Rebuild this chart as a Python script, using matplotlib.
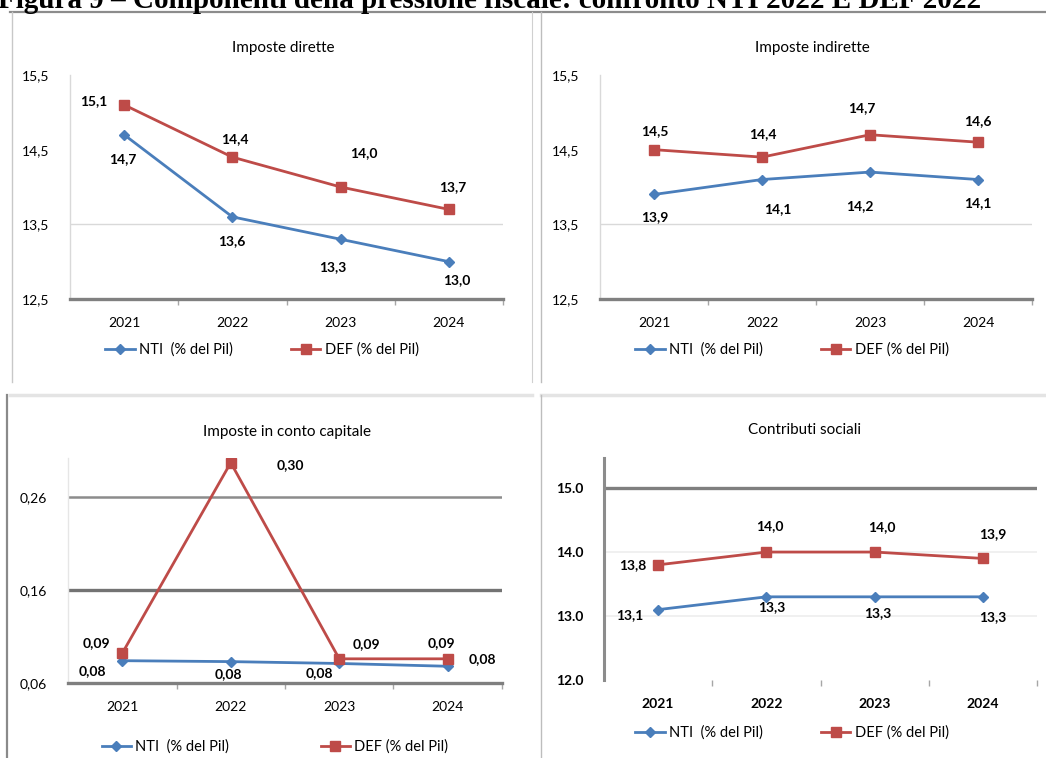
import matplotlib
matplotlib.use("Agg")
import matplotlib.pyplot as plt
from matplotlib.lines import Line2D

plt.rcParams['font.family'] = ['Lato', 'DejaVu Sans']

# ---- data (% del Pil) ----
years = ['2021', '2022', '2023', '2024']

dirette_nti = [14.7, 13.6, 13.3, 13.0]
dirette_def = [15.1, 14.4, 14.0, 13.7]

indirette_nti = [13.9, 14.1, 14.2, 14.1]
indirette_def = [14.5, 14.4, 14.7, 14.6]

capitale_nti = [0.084, 0.083, 0.081, 0.078]
capitale_def = [0.092, 0.297, 0.086, 0.086]

contributi_nti = [13.1, 13.3, 13.3, 13.3]
contributi_def = [13.8, 14.0, 14.0, 13.9]

label_nti = 'NTI  (% del Pil)'
label_def = 'DEF (% del Pil)'
fig_title = 'Figura 9 \u2013 Componenti della pressione fiscale: confronto NTI 2022 E DEF 2022'

BLUE = '#4a7ebb'
RED = '#be4b48'
W, H = 1046, 758

fig = plt.figure(figsize=(W / 100, H / 100), dpi=100)


def px_axes(x0, x1, y0, y1):
    return fig.add_axes([x0 / W, 1 - y1 / H, (x1 - x0) / W, (y1 - y0) / H])


def hline(x0, x1, y, color, lw):
    fig.add_artist(Line2D([x0 / W, x1 / W], [1 - y / H, 1 - y / H],
                          color=color, lw=lw, transform=fig.transFigure))


def vline(x, y0, y1, color, lw):
    fig.add_artist(Line2D([x / W, x / W], [1 - y0 / H, 1 - y1 / H],
                          color=color, lw=lw, transform=fig.transFigure))


# panel frames
hline(10, 1046, 12, '#8c8c8c', 1.6)
vline(12, 12, 382, '#c8c8c8', 1.0)
vline(532, 12, 382, '#d0d0d0', 0.8)
vline(541, 12, 382, '#bdbdbd', 1.0)
hline(10, 532, 395, '#e4e4e4', 2.5)
hline(541, 1046, 395, '#e4e4e4', 2.5)
vline(7, 395, 758, '#8a8a8a', 1.6)
vline(541, 395, 758, '#bdbdbd', 1.0)

# figure caption, cut by the top edge as in the source page
fig.text(-2 / W, 1 - 7.5 / H, fig_title, fontsize=21, fontweight='bold',
         family='Liberation Serif', ha='left', va='baseline')


def draw(ax, nti, dfe, ylim, ticks, fmt, title, title_xy, off_nti, off_def,
         legend_xy, colspace=4.0, bold_ticks=False):
    x = range(len(years))
    weight = 'bold' if bold_ticks else 'normal'
    ax.plot(x, nti, color=BLUE, lw=2.0, marker='D', ms=5.5, zorder=3)
    ax.plot(x, dfe, color=RED, lw=2.0, marker='s', ms=7, zorder=3)
    ax.set_xlim(-0.5, len(years) - 0.5)
    ax.set_ylim(*ylim)
    ax.set_yticks(ticks)
    if bold_ticks:
        labels = [fmt.format(v) for v in ticks]
    else:
        labels = [fmt.format(v).replace('.', ',') for v in ticks]
    ax.set_yticklabels(labels, fontsize=10, fontweight=weight)
    ax.set_xticks([k + 0.5 for k in range(len(years))])
    ax.set_xticklabels([])
    ax.tick_params(axis='y', length=0, pad=15)
    ax.tick_params(axis='x', length=4, color='#a6a6a6', width=1)
    for k, yr in enumerate(years):
        ax.annotate(yr, (k, 0), xycoords=('data', 'axes fraction'),
                    xytext=(0, -24), textcoords='offset pixels',
                    ha='center', va='center', fontsize=10, fontweight=weight)
    for sp in ['top', 'right']:
        ax.spines[sp].set_visible(False)
    for k in x:
        ax.annotate(fmt.format(nti[k]).replace('.', ','), (k, nti[k]),
                    xytext=(off_nti[k][0], -off_nti[k][1]),
                    textcoords='offset pixels', ha='center', va='center',
                    fontsize=10, fontweight='bold')
        ax.annotate(fmt.format(dfe[k]).replace('.', ','), (k, dfe[k]),
                    xytext=(off_def[k][0], -off_def[k][1]),
                    textcoords='offset pixels', ha='center', va='center',
                    fontsize=10, fontweight='bold')
    fig.text(title_xy[0] / W, 1 - title_xy[1] / H, title, fontsize=11,
             ha='center', va='center')
    h1 = Line2D([], [], color=BLUE, lw=2.0, marker='D', ms=5.5)
    h2 = Line2D([], [], color=RED, lw=2.0, marker='s', ms=7)
    fig.legend([h1, h2], [label_nti, label_def], loc='center',
               bbox_to_anchor=(legend_xy[0] / W, 1 - legend_xy[1] / H),
               ncol=2, frameon=False, fontsize=10.5, handlelength=2.0,
               handletextpad=0.3, columnspacing=colspace)


# Imposte dirette
ax1 = px_axes(70, 503, 75, 299)
draw(ax1, dirette_nti, dirette_def, (12.5, 15.5), [12.5, 13.5, 14.5, 15.5], '{:.1f}',
     'Imposte dirette', (283, 48),
     [(-1, 24), (-1, 24), (-8, 28), (8, 18)],
     [(-30, -4), (2, -18), (23, -34), (4, -22)], (262, 350))
# Imposte indirette
ax2 = px_axes(600, 1032, 75, 299)
draw(ax2, indirette_nti, indirette_def, (12.5, 15.5), [12.5, 13.5, 14.5, 15.5], '{:.1f}',
     'Imposte indirette', (812, 48),
     [(1, 23), (16, 30), (-10, 34), (0, 24)],
     [(1, -19), (1, -23), (-8, -27), (0, -21)], (792, 350))
# Imposte in conto capitale
ax3 = px_axes(68, 502, 458, 683)
draw(ax3, capitale_nti, capitale_def, (0.06, 0.302), [0.06, 0.16, 0.26], '{:.2f}',
     'Imposte in conto capitale', (287, 432),
     [(-30, 10), (-2, 12), (-20, 10), (35, -7)],
     [(-26, -10), (60, 2), (27, -15), (-6, -16)], (275, 747), colspace=6.3)
# Contributi sociali
ax4 = px_axes(604, 1037, 458, 680)
draw(ax4, contributi_nti, contributi_def, (12.0, 15.47), [12.0, 13.0, 14.0, 15.0], '{:.1f}',
     'Contributi sociali', (805, 430),
     [(-28, 5), (5, 10), (3, 16), (10, 20)],
     [(-25, 0), (3, -26), (7, -25), (10, -24)], (792, 733), bold_ticks=True)

# axis and grid styles
for ax in (ax1, ax2):
    ax.spines['left'].set_color('#d9d9d9')
    ax.spines['left'].set_linewidth(1.0)
    ax.spines['bottom'].set_color('#808080')
    ax.spines['bottom'].set_linewidth(2.4)
    ax.axhline(13.5, color='#d9d9d9', lw=1.0, zorder=1)

ax3.spines['left'].set_color('#e6e6e6')
ax3.spines['left'].set_linewidth(1.0)
ax3.spines['bottom'].set_color('#7f7f7f')
ax3.spines['bottom'].set_linewidth(2.4)
ax3.axhline(0.26, color='#8c8c8c', lw=1.8, zorder=1)
ax3.axhline(0.16, color='#737373', lw=2.4, zorder=1)

ax4.spines['left'].set_color('#8c8c8c')
ax4.spines['left'].set_linewidth(2.2)
ax4.spines['bottom'].set_visible(False)
ax4.axhline(15.0, color='#7f7f7f', lw=2.4, zorder=1)
for v in (13.0, 14.0):
    ax4.axhline(v, color='#eeeeee', lw=1.2, zorder=1)

fig.savefig('out.png', dpi=100)
